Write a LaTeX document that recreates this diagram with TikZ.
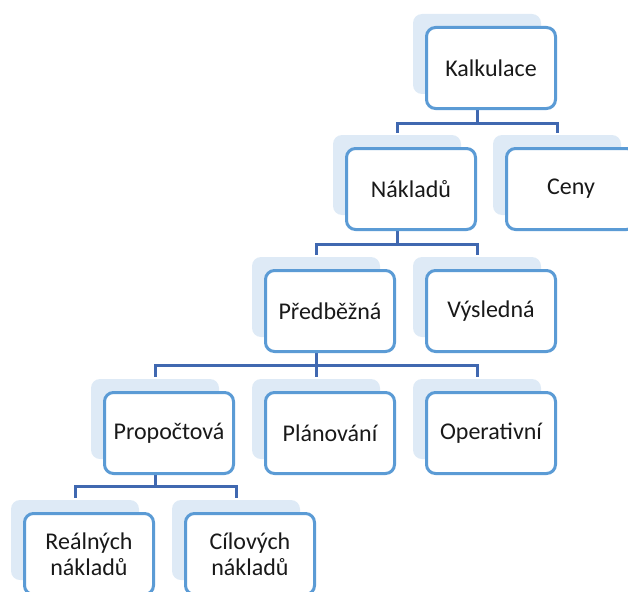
\documentclass[tikz,border=0pt]{standalone}
\usepackage{fontspec}
\setmainfont{Carlito}
\definecolor{bordc}{HTML}{5B9BD5}
\definecolor{shadc}{HTML}{DEEAF6}
\definecolor{connc}{HTML}{4068B0}
\begin{document}
\begin{tikzpicture}[x=1pt,y=-1pt,
  box/.style={draw=bordc,line width=3pt,fill=white,rounded corners=9pt,
    minimum width=129pt,minimum height=81pt,inner sep=0pt,outer sep=0pt,
    align=center,font=\fontsize{24}{25.5}\selectfont,text=black!90},
  shad/.style={fill=shadc,rounded corners=9pt,minimum width=128pt,
    minimum height=80pt,inner sep=0pt,outer sep=0pt},
  conn/.style={draw=connc,line width=3pt}]
\useasboundingbox (0,0) rectangle (628,591);
\clip (0,0) rectangle (628,591);
% shadows (x+52, y+28)
\node[shad] (ks) at (477,54) {};
\node[shad] (ns) at (397,175) {};
\node[shad] (cs) at (557,175) {};
\node[shad] (ps) at (316,297) {};
\node[shad] (vs) at (477,297) {};
\node[shad] (pps) at (155,419) {};
\node[shad] (pls) at (316,419) {};
\node[shad] (os) at (477,419) {};
\node[shad] (rs) at (75,540) {};
\node[shad] (cis) at (236,540) {};
% connector levels
\coordinate (h1) at (0,123);
\coordinate (h2) at (0,244);
\coordinate (h3) at (0,365);
\coordinate (h4) at (0,486);
\draw[conn] (ks.south) -- (ks.south |- h1) -| ([yshift=2.5pt]ns.north);
\draw[conn] (ks.south |- h1) -| ([yshift=2.5pt]cs.north);
\draw[conn] (ns.south) -- (ns.south |- h2) -| ([yshift=2.5pt]ps.north);
\draw[conn] (ns.south |- h2) -| ([yshift=2.5pt]vs.north);
\draw[conn] (ps.south) -- (ps.south |- h3) -| ([yshift=2.5pt]pps.north);
\draw[conn] (ps.south |- h3) -| ([yshift=2.5pt]os.north);
\draw[conn] (ps.south |- h3) -- ([yshift=2.5pt]pls.north);
\draw[conn] (pps.south) -- (pps.south |- h4) -| ([yshift=2.5pt]rs.north);
\draw[conn] (pps.south |- h4) -| ([yshift=2.5pt]cis.north);
% boxes (x+66, y+42)
\node[box] (k) at (491,68) {Kalkulace};
\node[box] (n) at (411,189) {Nákladů};
\node[box] (c) at (571,189) {Ceny};
\node[box] (p) at (330,311) {Předběžná};
\node[box] (v) at (491,311) {Výsledná};
\node[box] (pp) at (169,433) {Propočtová};
\node[box] (pl) at (330,433) {Plánování};
\node[box] (o) at (491,433) {Operativní};
\node[box] (r) at (89,554) {Reálných\\nákladů};
\node[box] (ci) at (250,554) {Cílových\\nákladů};
\end{tikzpicture}
\end{document}
